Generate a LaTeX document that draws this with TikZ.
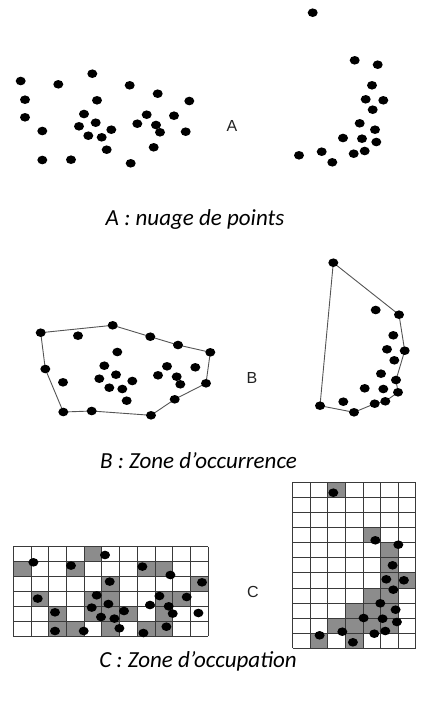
\documentclass[tikz,border=0pt]{standalone}
\usepackage{fontspec}
\setmainfont{Carlito}
\newfontfamily\labfont{Liberation Sans}
\usetikzlibrary{shapes.geometric}
\definecolor{hullgray}{HTML}{555555}
\definecolor{cellgray}{HTML}{8C8C8C}
\definecolor{gridgray}{HTML}{3A3A3A}
\definecolor{labgray}{HTML}{222222}
\begin{document}
\begin{tikzpicture}[x=1pt,y=-1pt,
  dot/.style={ellipse,fill=black,inner sep=0pt,minimum width=10pt,minimum height=8.6pt},
  hull/.style={draw=hullgray,line width=0.9pt,line join=round},
  cell/.style={fill=cellgray},
  gridlines/.style={draw=gridgray,line width=0.9pt},
  caption/.style={font=\fontsize{23}{27}\selectfont\itshape,anchor=base,inner sep=0pt},
  lab/.style={font=\labfont\fontsize{16}{18}\selectfont,text=labgray,inner sep=0pt}]
\useasboundingbox (0,0) rectangle (425,702);

% ---------- A ----------
\foreach \x/\y [count=\i] in {20.7/81,58.3/84.3,92.3/73.7,129.7/85.3,157.7/93.7,189.3/101,25/99.7,97/100.3,25/117.3,84/114,146.7/114.7,174/115.7,95.7/122.7,79/126.3,111.3/129.7,137.3/123.7,156/125,160/132.3,42.3/131,88.3/135.7,101.7/137.3,185.7/131.7,106.7/149.7,153.7/147.3,42.3/160,71/159.7,130.7/163.3}
  \node[dot] (AL\i) at (\x,\y) {};
\foreach \x/\y [count=\i] in {312.7/12.7,354.7/60.3,377.7/64.7,372/85.3,365.7/99.3,383.3/100.3,372.7/109.7,359.7/123.3,375/129.7,343/138,362/138.7,376.3/142,321.7/151.7,299/155.3,353.7/153.7,364.7/151,332.3/162.3}
  \node[dot] (AR\i) at (\x,\y) {};
\node[lab] (labA) at (232,126) {A};
\node[caption] (capA) at (195,225.5) {A : nuage de points};

% ---------- B ----------
\foreach \x/\y [count=\i] in {40.7/332.7,112.7/325.3,150.3/336.7,178/345,210.3/352.3,206/383.3,174.7/399.3,151/415.3,91.7/411,63.3/412,45.3/369}
  \coordinate (BH\i) at (\x,\y);
\draw[hull] (BH1) -- (BH2) -- (BH3) -- (BH4) -- (BH5) -- (BH6) -- (BH7) -- (BH8) -- (BH9) -- (BH10) -- (BH11) -- cycle;
\foreach \i in {1,...,11} \node[dot] (BL\i) at (BH\i) {};
\foreach \x/\y [count=\i from 12] in {78/335.7,117.3/352,104.3/365.7,116/374.7,99.3/378.7,132.3/381,109.3/387.7,122.3/389,63/382.3,167/366.3,195.3/367.3,158/375.3,176.7/376.7,180.3/384.3,126.7/400.7}
  \node[dot] (BL\i) at (\x,\y) {};

\foreach \x/\y [count=\i] in {333.3/262.7,399/314.7,404.7/350.7,396/380,398/392.3,385.3/401.3,374.7/403.7,354/412.3,320/405.7}
  \coordinate (BK\i) at (\x,\y);
\draw[hull] (BK1) -- (BK2) -- (BK3) -- (BK4) -- (BK5) -- (BK6) -- (BK7) -- (BK8) -- (BK9) -- cycle;
\foreach \i in {1,...,9} \node[dot] (BR\i) at (BK\i) {};
\foreach \x/\y [count=\i from 10] in {375.7/310,393.3/335.3,387/349.3,394.3/360.3,381/373.7,364.7/388.3,383.3/389,343.3/401.7}
  \node[dot] (BR\i) at (\x,\y) {};
\node[lab] (labB) at (252,378) {B};
\node[caption] (capB) at (198.5,468.3) {B : Zone d’occurrence};

% ---------- C ----------
\begin{scope}[shift={(13.3,546.7)},x=17.72pt,y=-14.9pt]
  \foreach \c/\r in {4/0,0/1,3/1,7/1,8/1,5/2,10/2,1/3,4/3,5/3,8/3,9/3,2/4,4/4,5/4,6/4,8/4,2/5,3/5,5/5,7/5,8/5}
    \fill[cell] (\c,\r) rectangle ++(1,1);
  \foreach \c in {0,...,11} \draw[gridlines] (\c,0) -- (\c,6);
  \foreach \r in {0,...,6} \draw[gridlines] (0,\r) -- (11,\r);
\end{scope}
\foreach \x/\y [count=\i] in {33.4/562.3,71/565.6,105/555,142.4/566.6,170.4/575,202/582.3,109.7/581.6,37.7/598.6,96.7/595.3,159.4/596,186.7/597,108.4/604,91.7/607.6,124/611,150/605,168.7/606.3,172.7/613.6,55/612.3,101/617,114.4/618.6,198.4/613,119.4/628.3,166.4/626.7,55/631,83.7/631,143.4/633}
  \node[dot] (CL\i) at (\x,\y) {};

\begin{scope}[shift={(292.7,482.3)},x=17.6pt,y=-15.1pt]
  \foreach \c/\r in {2/0,4/3,5/4,5/5,5/6,6/6,4/7,5/7,3/8,4/8,5/8,2/9,3/9,4/9,5/9,1/10,3/10}
    \fill[cell] (\c,\r) rectangle ++(1,1);
  \foreach \c in {0,...,7} \draw[gridlines] (\c,0) -- (\c,11);
  \foreach \r in {0,...,11} \draw[gridlines] (0,\r) -- (7,\r);
\end{scope}
\foreach \x/\y [count=\i] in {333.3/492.7,375.3/540.3,398.3/544.7,392.6/565.3,386.3/579.3,403.9/580.3,393.3/589.7,380.3/603.3,395.6/609.7,363.6/618,382.6/618.7,396.9/622,342.3/631.7,319.6/635.3,374.3/633.7,385.3/631,352.9/642.3}
  \node[dot] (CR\i) at (\x,\y) {};
\node[lab] (labC) at (253,592) {C};
\node[caption] (capC) at (198,667) {C : Zone d’occupation};
\end{tikzpicture}
\end{document}
